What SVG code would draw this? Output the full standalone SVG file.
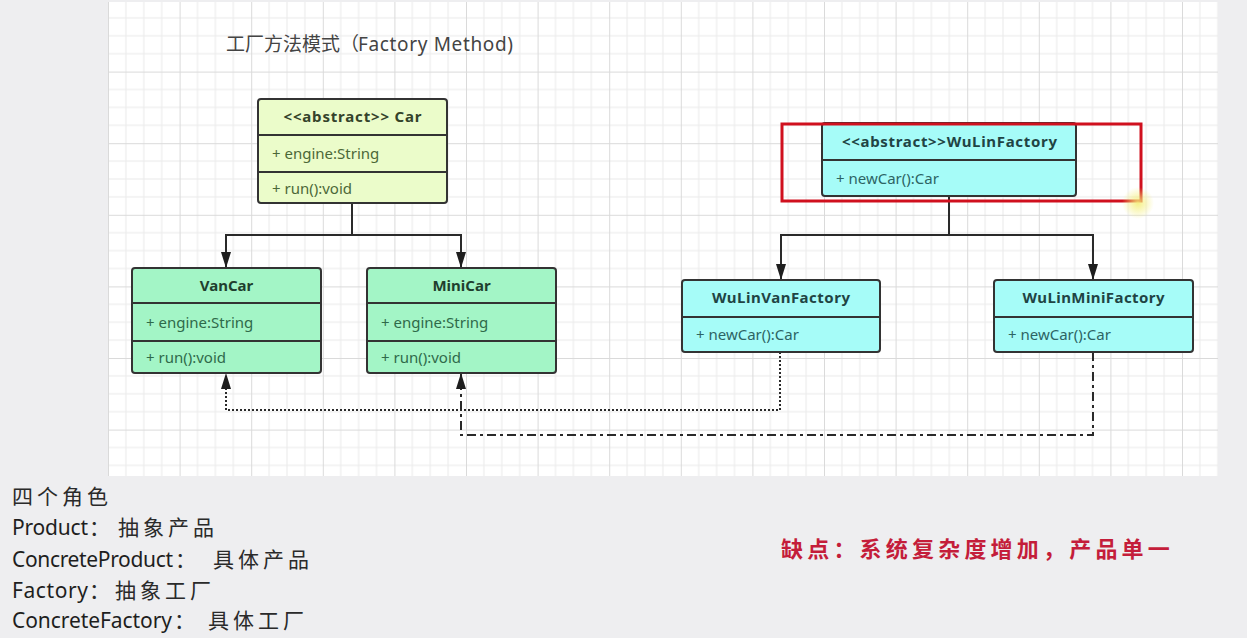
<svg xmlns="http://www.w3.org/2000/svg" width="1247" height="638" viewBox="0 0 1247 638">
<style>
.bg{fill:#eeeef0}
.box{stroke:#333;stroke-width:2}
.car{fill:#ebfcca}
.green{fill:#a3f5c6}
.cyan{fill:#a6fcf8}
.div{stroke:#333;stroke-width:2;fill:none}
.hd{font-family:"Noto Sans","Noto Sans CJK SC",sans-serif;font-size:15px;font-weight:700;text-anchor:middle}
.at{font-family:"Noto Sans","Noto Sans CJK SC",sans-serif;font-size:15px}
.hcar{fill:#34432a}.acar{fill:#4b6838}
.hg{fill:#1f3f2e}.ag{fill:#2f6a4a}
.hc{fill:#1f4444}.ac{fill:#2d6464}
.conn{fill:none;stroke:#2a2a2a;stroke-width:2}
.dot{stroke-dasharray:2 2}
.dd{stroke-dasharray:9 4 3 4}
.note{font-family:"Noto Sans","Noto Sans CJK SC",sans-serif;font-size:21px;fill:#1e1e1e}
.cjk{font-family:"Noto Sans CJK SC",sans-serif;font-size:21px;fill:#2a2a2a;letter-spacing:4px}
</style>
<defs>
<pattern id="grid" x="108" y="0" width="71.6" height="71.6" patternUnits="userSpaceOnUse">
<path d="M17.9 0V71.6M35.8 0V71.6M53.7 0V71.6M0 17.9H71.6M0 35.8H71.6M0 53.7H71.6" stroke="#eaeaea" stroke-width="1" fill="none"/>
<path d="M0.5 0V71.6M0 0.5H71.6" stroke="#dadada" stroke-width="1" fill="none"/>
</pattern>
<marker id="arr" markerWidth="16" markerHeight="10" refX="16" refY="5" orient="auto" markerUnits="userSpaceOnUse">
<path d="M0,0 L16,5 L0,10 z" fill="#1e1e1e"/>
</marker>
<radialGradient id="glow">
<stop offset="0" stop-color="#f4ef7a" stop-opacity="0.9"/>
<stop offset="1" stop-color="#f4ef7a" stop-opacity="0"/>
</radialGradient>
</defs>
<rect class="bg" x="0" y="0" width="1247" height="638"/>
<rect x="108" y="2" width="1110" height="474" fill="#ffffff"/>
<rect x="108" y="2" width="1110" height="474" fill="url(#grid)"/>

<text x="226" y="51" font-family="Noto Sans CJK SC, sans-serif" font-size="19" fill="#444">工厂方法模式（</text>
<text x="358" y="51" font-family="Noto Sans, sans-serif" font-size="19" fill="#444" textLength="155">Factory Method)</text>

<g id="connectors">
<path class="conn" d="M352,203 V235"/>
<path class="conn" d="M352,235 H226 V268" marker-end="url(#arr)"/>
<path class="conn" d="M352,235 H461 V268" marker-end="url(#arr)"/>
<path class="conn" d="M949,196 V235"/>
<path class="conn" d="M949,235 H781 V280" marker-end="url(#arr)"/>
<path class="conn" d="M949,235 H1093 V280" marker-end="url(#arr)"/>
<path class="conn dot" d="M780,352 V410 H226 V373" marker-end="url(#arr)"/>
<path class="conn dd" d="M1093,352 V435 H461 V373" marker-end="url(#arr)"/>
</g>

<g id="car">
<rect class="box car" x="258" y="99" width="189" height="104" rx="3"/>
<path class="div" d="M258,135 H447 M258,172 H447"/>
<text class="hd hcar" x="352.5" y="122" textLength="138">&lt;&lt;abstract&gt;&gt; Car</text>
<text class="at acar" x="272" y="159">+ engine:String</text>
<text class="at acar" x="272" y="194">+ run():void</text>
</g>

<g id="vancar">
<rect class="box green" x="132" y="268" width="189" height="105" rx="3"/>
<path class="div" d="M132,303 H321 M132,341 H321"/>
<text class="hd hg" x="226.5" y="291">VanCar</text>
<text class="at ag" x="146" y="328">+ engine:String</text>
<text class="at ag" x="146" y="363">+ run():void</text>
</g>

<g id="minicar">
<rect class="box green" x="367" y="268" width="189" height="105" rx="3"/>
<path class="div" d="M367,303 H556 M367,341 H556"/>
<text class="hd hg" x="461.5" y="291">MiniCar</text>
<text class="at ag" x="381" y="328">+ engine:String</text>
<text class="at ag" x="381" y="363">+ run():void</text>
</g>

<g id="wulinfactory">
<rect class="box cyan" x="822" y="123" width="254" height="73" rx="3"/>
<path class="div" d="M822,160 H1076"/>
<text class="hd hc" x="949.5" y="147" textLength="215">&lt;&lt;abstract&gt;&gt;WuLinFactory</text>
<text class="at ac" x="836" y="184">+ newCar():Car</text>
</g>
<rect id="highlight" x="782" y="124" width="359" height="77" fill="none" stroke="#d0101e" stroke-width="3"/>
<circle cx="1138" cy="203" r="16" fill="url(#glow)"/>

<g id="wulinvanfactory">
<rect class="box cyan" x="682" y="280" width="198" height="72" rx="3"/>
<path class="div" d="M682,317 H880"/>
<text class="hd hc" x="781" y="303" textLength="138">WuLinVanFactory</text>
<text class="at ac" x="696" y="340">+ newCar():Car</text>
</g>

<g id="wulinminifactory">
<rect class="box cyan" x="994" y="280" width="199" height="72" rx="3"/>
<path class="div" d="M994,317 H1193"/>
<text class="hd hc" x="1093.5" y="303" textLength="142">WuLinMiniFactory</text>
<text class="at ac" x="1008" y="340">+ newCar():Car</text>
</g>

<g id="notes">
<text class="cjk" x="12" y="504">四个角色</text>
<text class="note" x="12" y="535" textLength="76">Product</text>
<text class="cjk" x="89" y="535">：</text>
<text class="cjk" x="118" y="535">抽象产品</text>
<text class="note" x="12" y="567" textLength="161">ConcreteProduct</text>
<text class="cjk" x="175" y="567">：</text>
<text class="cjk" x="213" y="567">具体产品</text>
<text class="note" x="12" y="598" textLength="76">Factory</text>
<text class="cjk" x="89" y="598">：</text>
<text class="cjk" x="115" y="598">抽象工厂</text>
<text class="note" x="12" y="628" textLength="160">ConcreteFactory</text>
<text class="cjk" x="174" y="628">：</text>
<text class="cjk" x="208" y="628">具体工厂</text>
</g>

<text x="781" y="557" font-family="Noto Sans CJK SC, sans-serif" font-size="22" font-weight="700" fill="#c41d3a" letter-spacing="4.2">缺点：系统复杂度增加，产品单一</text>
</svg>
